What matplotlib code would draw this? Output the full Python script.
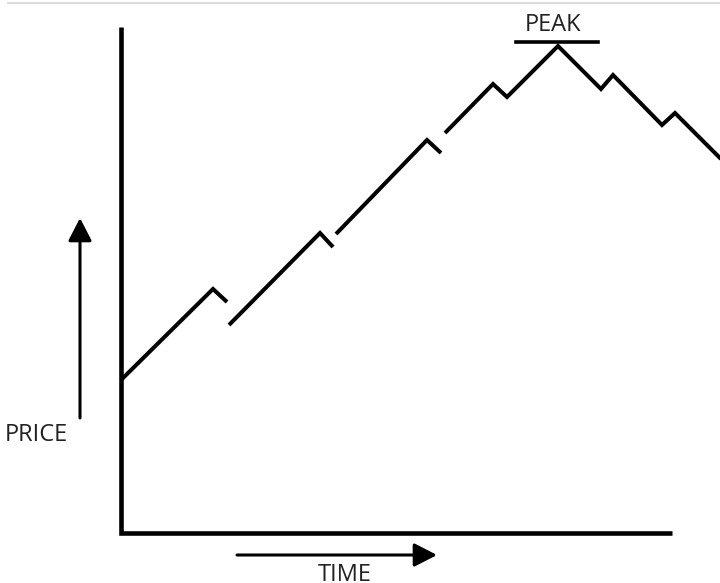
import matplotlib.pyplot as plt
from matplotlib.patches import FancyArrowPatch

# price path pieces (time, price), drawn as separate strokes
seg1_t = [0, 92, 106]
seg1_p = [153, 244, 231]
seg2_t = [108, 199, 212]
seg2_p = [208, 300, 286]
seg3_t = [215, 306, 320]
seg3_p = [299, 393, 380]
seg4_t = [324, 372, 386, 437, 480, 492, 541, 554, 614]
seg4_p = [400, 449, 436, 487, 444, 458, 408, 420, 360]

peak_t = 437
peak_p = 487

fig = plt.figure(figsize=(7.2, 5.83), dpi=100)
ax = fig.add_axes([0, 0, 1, 1])
ax.set_xlim(-121, 599)
ax.set_ylim(-50, 533)
ax.axis('off')

# faint line along the top
ax.plot([-113, 599], [530, 530], color='#d4d4d4', lw=1.2)

# axes
ax.plot([0, 0, 551], [506, 0, 0], color='black', lw=3.3,
        solid_joinstyle='miter', solid_capstyle='butt')

for t, p in [(seg1_t, seg1_p), (seg2_t, seg2_p), (seg3_t, seg3_p), (seg4_t, seg4_p)]:
    ax.plot(t, p, color='black', lw=2.9, solid_joinstyle='miter',
            solid_capstyle='butt')

# peak marker
ax.plot([peak_t - 42, peak_t + 40], [peak_p + 4, peak_p + 4], color='black', lw=2.6)
ax.text(peak_t - 5, peak_p + 15, 'PEAK', family='Open Sans', fontsize=17,
        ha='center', va='baseline', color='#222222')

# price arrow
ax.add_patch(FancyArrowPatch((-41, 115), (-41, 315),
                             arrowstyle='-|>,head_length=0.7,head_width=0.36',
                             mutation_scale=20, color='black', lw=2.2,
                             shrinkA=0, shrinkB=0))
ax.text(-53, 92, 'PRICE', family='Open Sans', fontsize=17,
        ha='right', va='baseline', color='#222222')

# time arrow
ax.add_patch(FancyArrowPatch((116, -22), (316, -22),
                             arrowstyle='-|>,head_length=0.7,head_width=0.36',
                             mutation_scale=20, color='black', lw=2.2,
                             shrinkA=0, shrinkB=0))
ax.text(197, -48, 'TIME', family='Open Sans', fontsize=17,
        ha='left', va='baseline', color='#222222')

fig.savefig('out.png', dpi=100)
